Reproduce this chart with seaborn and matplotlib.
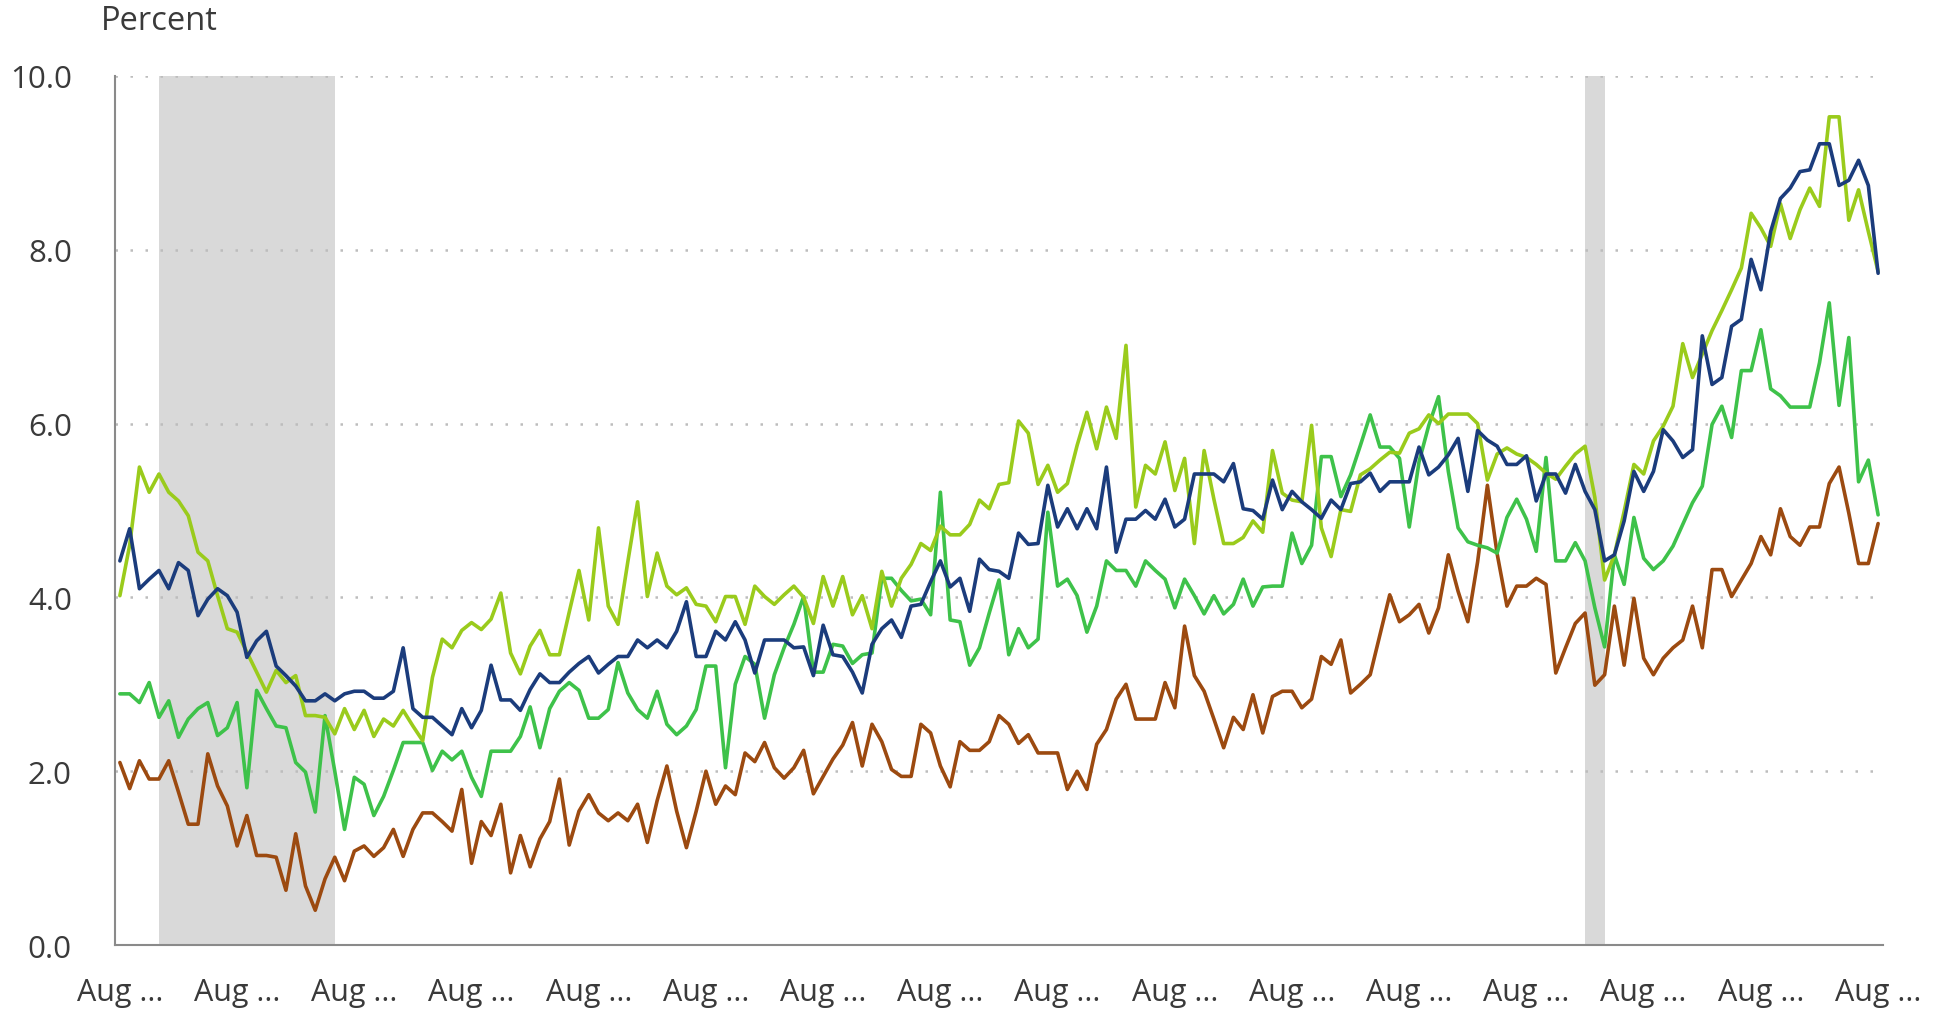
import numpy as np
import pandas as pd
import matplotlib
matplotlib.use("Agg")
import matplotlib.pyplot as plt
import seaborn as sns

# ---------------- data (monthly, Aug 2007 - Aug 2022) ----------------
months = pd.date_range("2007-08-01", periods=181, freq="MS")

series_light_green = [
    4.02, 4.60, 5.50, 5.21, 5.42, 5.21, 5.11, 4.94, 4.52, 4.42,
    4.02, 3.64, 3.60, 3.37, 3.14, 2.91, 3.16, 3.02, 3.10, 2.64,
    2.64, 2.62, 2.43, 2.72, 2.48, 2.70, 2.40, 2.60, 2.52, 2.70,
    2.52, 2.35, 3.08, 3.52, 3.42, 3.62, 3.71, 3.63, 3.75, 4.05,
    3.36, 3.12, 3.44, 3.62, 3.34, 3.34, 3.83, 4.31, 3.74, 4.80,
    3.90, 3.69, 4.41, 5.10, 4.01, 4.51, 4.13, 4.03, 4.11, 3.92,
    3.90, 3.72, 4.01, 4.01, 3.69, 4.13, 4.01, 3.92, 4.03, 4.13,
    4.00, 3.70, 4.24, 3.90, 4.24, 3.80, 4.02, 3.64, 4.30, 3.90,
    4.22, 4.38, 4.62, 4.54, 4.82, 4.72, 4.72, 4.84, 5.12, 5.02,
    5.30, 5.32, 6.03, 5.89, 5.30, 5.52, 5.21, 5.31, 5.75, 6.13,
    5.71, 6.19, 5.83, 6.90, 5.04, 5.52, 5.42, 5.79, 5.23, 5.60,
    4.62, 5.69, 5.13, 4.62, 4.62, 4.69, 4.88, 4.75, 5.69, 5.20,
    5.12, 5.10, 5.98, 4.80, 4.47, 5.01, 4.99, 5.41, 5.48, 5.58,
    5.67, 5.66, 5.89, 5.94, 6.10, 6.00, 6.11, 6.11, 6.11, 6.00,
    5.35, 5.65, 5.72, 5.65, 5.61, 5.53, 5.43, 5.36, 5.51, 5.65,
    5.74, 5.15, 4.20, 4.49, 4.99, 5.53, 5.42, 5.80, 5.97, 6.20,
    6.92, 6.53, 6.80, 7.07, 7.30, 7.54, 7.79, 8.42, 8.25, 8.04,
    8.53, 8.13, 8.46, 8.71, 8.50, 9.53, 9.53, 8.34, 8.69, 8.21,
    7.75,
]

series_dark_blue = [
    4.42, 4.79, 4.10, 4.21, 4.31, 4.10, 4.40, 4.31, 3.79, 3.98,
    4.10, 4.02, 3.83, 3.31, 3.50, 3.61, 3.21, 3.10, 2.98, 2.81,
    2.81, 2.89, 2.81, 2.89, 2.92, 2.92, 2.84, 2.84, 2.92, 3.42,
    2.72, 2.62, 2.62, 2.52, 2.42, 2.72, 2.50, 2.70, 3.22, 2.82,
    2.82, 2.70, 2.94, 3.12, 3.02, 3.02, 3.14, 3.24, 3.32, 3.13,
    3.23, 3.32, 3.32, 3.51, 3.42, 3.51, 3.42, 3.61, 3.95, 3.32,
    3.32, 3.61, 3.51, 3.72, 3.51, 3.13, 3.51, 3.51, 3.51, 3.42,
    3.43, 3.10, 3.68, 3.34, 3.32, 3.14, 2.90, 3.46, 3.64, 3.74,
    3.54, 3.90, 3.92, 4.18, 4.42, 4.12, 4.22, 3.84, 4.44, 4.32,
    4.30, 4.22, 4.74, 4.61, 4.62, 5.29, 4.81, 5.02, 4.79, 5.02,
    4.79, 5.50, 4.52, 4.90, 4.90, 5.00, 4.90, 5.13, 4.81, 4.90,
    5.42, 5.42, 5.42, 5.33, 5.54, 5.02, 5.00, 4.90, 5.35, 5.01,
    5.22, 5.10, 5.01, 4.91, 5.12, 5.01, 5.31, 5.33, 5.43, 5.22,
    5.33, 5.33, 5.33, 5.73, 5.41, 5.50, 5.64, 5.83, 5.22, 5.92,
    5.81, 5.74, 5.53, 5.53, 5.63, 5.11, 5.42, 5.42, 5.20, 5.53,
    5.22, 5.01, 4.42, 4.49, 4.88, 5.45, 5.22, 5.45, 5.93, 5.80,
    5.61, 5.70, 7.01, 6.45, 6.53, 7.12, 7.20, 7.89, 7.54, 8.21,
    8.59, 8.71, 8.90, 8.92, 9.22, 9.22, 8.74, 8.80, 9.03, 8.74,
    7.73,
]

series_green = [
    2.89, 2.89, 2.79, 3.02, 2.62, 2.81, 2.39, 2.60, 2.72, 2.79,
    2.41, 2.50, 2.79, 1.81, 2.93, 2.72, 2.52, 2.50, 2.10, 1.99,
    1.53, 2.64, 2.00, 1.33, 1.93, 1.85, 1.49, 1.71, 2.01, 2.33,
    2.33, 2.33, 2.01, 2.23, 2.13, 2.23, 1.93, 1.71, 2.23, 2.23,
    2.23, 2.40, 2.74, 2.27, 2.72, 2.92, 3.02, 2.93, 2.61, 2.61,
    2.71, 3.25, 2.90, 2.71, 2.61, 2.92, 2.54, 2.42, 2.52, 2.71,
    3.21, 3.21, 2.04, 3.00, 3.32, 3.23, 2.61, 3.11, 3.42, 3.69,
    4.01, 3.14, 3.14, 3.46, 3.44, 3.24, 3.34, 3.36, 4.22, 4.22,
    4.08, 3.96, 3.98, 3.80, 5.21, 3.74, 3.72, 3.22, 3.42, 3.82,
    4.20, 3.34, 3.64, 3.42, 3.52, 4.98, 4.13, 4.21, 4.02, 3.60,
    3.90, 4.42, 4.31, 4.31, 4.13, 4.42, 4.31, 4.21, 3.88, 4.21,
    4.02, 3.81, 4.02, 3.81, 3.92, 4.21, 3.90, 4.12, 4.13, 4.13,
    4.74, 4.39, 4.60, 5.62, 5.62, 5.16, 5.41, 5.75, 6.10, 5.73,
    5.73, 5.60, 4.81, 5.56, 5.98, 6.31, 5.45, 4.80, 4.64, 4.60,
    4.57, 4.51, 4.92, 5.13, 4.90, 4.53, 5.61, 4.42, 4.42, 4.63,
    4.42, 3.88, 3.43, 4.49, 4.15, 4.92, 4.45, 4.32, 4.42, 4.59,
    4.84, 5.09, 5.28, 5.99, 6.20, 5.84, 6.61, 6.61, 7.08, 6.40,
    6.32, 6.19, 6.19, 6.19, 6.70, 7.39, 6.21, 6.99, 5.33, 5.58,
    4.95,
]

series_brown = [
    2.10, 1.80, 2.12, 1.91, 1.91, 2.12, 1.76, 1.39, 1.39, 2.20,
    1.83, 1.60, 1.14, 1.49, 1.03, 1.03, 1.01, 0.63, 1.28, 0.68,
    0.40, 0.76, 1.01, 0.74, 1.08, 1.14, 1.02, 1.12, 1.33, 1.02,
    1.33, 1.52, 1.52, 1.42, 1.31, 1.79, 0.94, 1.42, 1.26, 1.62,
    0.83, 1.26, 0.90, 1.22, 1.42, 1.91, 1.15, 1.54, 1.73, 1.52,
    1.43, 1.52, 1.43, 1.62, 1.18, 1.66, 2.06, 1.54, 1.12, 1.54,
    2.00, 1.62, 1.83, 1.73, 2.21, 2.11, 2.33, 2.04, 1.92, 2.04,
    2.24, 1.74, 1.94, 2.14, 2.30, 2.56, 2.06, 2.54, 2.34, 2.02,
    1.94, 1.94, 2.54, 2.44, 2.06, 1.82, 2.34, 2.24, 2.24, 2.34,
    2.64, 2.54, 2.32, 2.42, 2.21, 2.21, 2.21, 1.79, 2.00, 1.79,
    2.31, 2.48, 2.83, 3.00, 2.60, 2.60, 2.60, 3.02, 2.73, 3.67,
    3.10, 2.92, 2.60, 2.27, 2.62, 2.48, 2.88, 2.44, 2.86, 2.92,
    2.92, 2.73, 2.83, 3.32, 3.23, 3.51, 2.90, 3.00, 3.11, 3.57,
    4.03, 3.72, 3.80, 3.92, 3.59, 3.88, 4.49, 4.07, 3.72, 4.41,
    5.29, 4.50, 3.90, 4.13, 4.13, 4.22, 4.15, 3.13, 3.42, 3.70,
    3.82, 2.99, 3.11, 3.90, 3.22, 3.99, 3.30, 3.11, 3.30, 3.42,
    3.51, 3.90, 3.42, 4.32, 4.32, 4.01, 4.20, 4.39, 4.70, 4.49,
    5.02, 4.70, 4.60, 4.81, 4.81, 5.31, 5.50, 4.97, 4.39, 4.39,
    4.85,
]

series_names = ["Series 4", "Series 3", "Series 2", "Series 1"]
series_values = [series_brown, series_green, series_light_green, series_dark_blue]
series_colors = ["#9c4a10", "#3ec24a", "#9acb1c", "#1b3c7c"]

# recessions (month indexes, start / end)
recession_starts = [4, 150]
recession_ends = [22, 152]

tick_positions = list(range(0, 181, 12))
tick_labels = ["Aug ..."] * len(tick_positions)
y_ticks = [0, 2, 4, 6, 8, 10]

# ---------------- long-form table ----------------
frames = []
for name, vals in zip(series_names, series_values):
    frames.append(pd.DataFrame({"month": months, "idx": np.arange(len(vals)),
                                "value": vals, "series": name}))
df = pd.concat(frames, ignore_index=True)

# ---------------- plot ----------------
sns.set_theme(style="white")
plt.rcParams["font.family"] = ["Open Sans", "DejaVu Sans"]

W, H = 1940, 1012
fig = plt.figure(figsize=(W / 100, H / 100), dpi=100)
ax = fig.add_axes([115 / W, 1 - 946 / H, (1883 - 115) / W, (946 - 77) / H])

for s, e in zip(recession_starts, recession_ends):
    ax.axvspan(s, e, ymin=0, ymax=1, color="#d9d9d9", lw=0, zorder=0.2)

sns.lineplot(data=df, x="idx", y="value", hue="series", hue_order=series_names,
             palette=dict(zip(series_names, series_colors)), linewidth=2.6,
             legend=False, ax=ax, zorder=3)

ax.set_xlim(-0.5, 180.5)
ax.set_ylim(0, 10)
ax.set_yticks(y_ticks)
ax.set_yticklabels([f"{v:.1f}" for v in y_ticks])
ax.set_xticks(tick_positions)
ax.set_xticklabels(tick_labels)
ax.set_xlabel("")
ax.set_ylabel("")

ax.set_axisbelow(True)
ax.yaxis.grid(True, color="#bdbdbd", linestyle=(0, (1, 5)), linewidth=1.8)
ax.xaxis.grid(False)

ax.tick_params(axis="y", which="major", length=0, pad=31, labelsize=22.5,
               labelcolor="#3a3a3a")
ax.set_yticks([0, 10], minor=True)
ax.tick_params(axis="y", which="minor", length=19, width=1.2, color="#c8cfdc")
ax.tick_params(axis="x", which="major", length=0, pad=23, labelsize=22,
               labelcolor="#3a3a3a")

for side in ["top", "right"]:
    ax.spines[side].set_visible(False)
for side in ["left", "bottom"]:
    ax.spines[side].set_color("#8a8a8a")
    ax.spines[side].set_linewidth(1.5)

fig.text(101 / W, 1 - 22 / H, "Percent", ha="left", va="center",
         fontsize=23.5, color="#3a3a3a")

fig.savefig("out.png", dpi=100)
